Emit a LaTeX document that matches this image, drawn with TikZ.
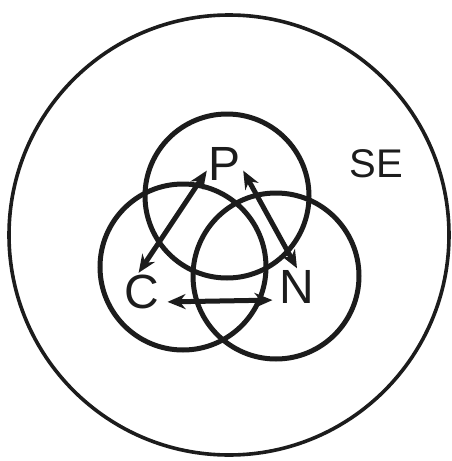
\documentclass[tikz,border=0pt]{standalone}
\usepackage{fontspec}
\setmainfont{Liberation Sans}
\usetikzlibrary{arrows.meta,positioning}
\definecolor{InkBlack}{RGB}{28,28,28}
\tikzset{
  ring/.style={draw=InkBlack,line width=5pt},
  letter/.style={font=\fontsize{48}{48}\selectfont,inner sep=2pt,text=InkBlack},
  link/.style={{Stealth[length=18pt,width=15pt]}-{Stealth[length=18pt,width=15pt]},line width=5pt,draw=InkBlack}
}

\begin{document}
\begin{tikzpicture}[x=1pt,y=-1pt]
  \useasboundingbox (0,0) rectangle (451,461);
  % surroundings
  \draw[InkBlack,line width=3.6pt] (229,235) circle (220pt);
  \node[letter,font=\fontsize{40}{40}\selectfont] (labelSE) at (376,164) {SE};
  % three overlapping circles
  \draw[ring] (227,196) circle (82pt);
  \draw[ring] (183,267) circle (83pt);
  \draw[ring] (276,276) circle (83pt);
  \node[letter] (labelP) at (225,164) {P};
  \node[letter] (labelC) at (142,292) {C};
  \node[letter] (labelN) at (297,287) {N};
  \draw[link] (labelP.200) -- (labelC.100);
  \draw[link] (labelP.-20) -- (labelN.north);
  \draw[link,shorten <=6pt,shorten >=5pt] ([yshift=-10pt]labelC.east) -- ([yshift=-13pt]labelN.west);
\end{tikzpicture}
\end{document}
